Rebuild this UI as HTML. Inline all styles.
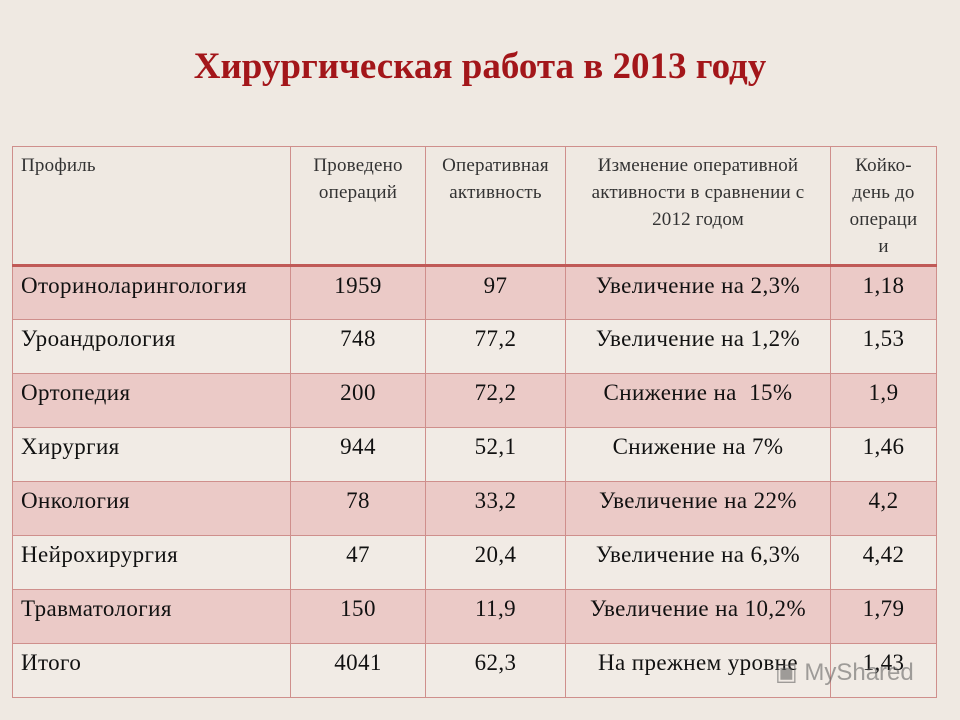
<!DOCTYPE html>
<html><head><meta charset="utf-8"><style>
body{margin:0;width:960px;height:720px;background:#efe9e2;position:relative;overflow:hidden;font-family:"Liberation Serif","Noto Serif CJK SC",serif}
h1{position:absolute;left:0;top:45px;width:960px;margin:0;text-align:center;font-size:37px;font-weight:bold;color:#a3161a;line-height:44px}
table{position:absolute;left:12px;top:146px;width:924px;border-collapse:collapse;table-layout:fixed}
td,th{border:1.5px solid #cf8f8c;padding:0;color:#111;text-align:center;font-weight:normal;box-sizing:border-box;overflow:hidden}
th{font-size:19px;height:119px;vertical-align:top;padding-top:5px;line-height:27px;color:#333;letter-spacing:0.2px}
th:first-child{text-align:left;padding-left:8px}
tr.h{border-bottom:3px solid #c05a57}
td{font-size:23px;height:54px;vertical-align:top;padding-top:6px;line-height:26px;white-space:nowrap;letter-spacing:0.4px}
td:first-child{text-align:left;padding-left:8px}
tr.o td{background:#ebcac7}
tr.e td{background:#f1ebe5}
.wm{position:absolute;left:775px;top:658px;font-family:"Liberation Sans",sans-serif;font-size:24px;color:rgba(90,90,90,0.55)}
</style></head><body>
<h1>Хирургическая работа в 2013 году</h1>
<table>
<colgroup><col style="width:278px"><col style="width:135px"><col style="width:140px"><col style="width:265px"><col style="width:106px"></colgroup>
<tr class="h"><th>Профиль</th><th>Проведено<br>операций</th><th>Оперативная<br>активность</th><th>Изменение оперативной<br>активности в сравнении с<br>2012 годом</th><th>Койко-<br>день до<br>операци<br>и</th></tr>
<tr class="o"><td>Оториноларингология</td><td>1959</td><td>97</td><td>Увеличение на 2,3%</td><td>1,18</td></tr>
<tr class="e"><td>Уроандрология</td><td>748</td><td>77,2</td><td>Увеличение на 1,2%</td><td>1,53</td></tr>
<tr class="o"><td>Ортопедия</td><td>200</td><td>72,2</td><td>Снижение на&nbsp; 15%</td><td>1,9</td></tr>
<tr class="e"><td>Хирургия</td><td>944</td><td>52,1</td><td>Снижение на 7%</td><td>1,46</td></tr>
<tr class="o"><td>Онкология</td><td>78</td><td>33,2</td><td>Увеличение на 22%</td><td>4,2</td></tr>
<tr class="e"><td>Нейрохирургия</td><td>47</td><td>20,4</td><td>Увеличение на 6,3%</td><td>4,42</td></tr>
<tr class="o"><td>Травматология</td><td>150</td><td>11,9</td><td>Увеличение на 10,2%</td><td>1,79</td></tr>
<tr class="e"><td>Итого</td><td>4041</td><td>62,3</td><td>На прежнем уровне</td><td>1,43</td></tr>
</table>
<div class="wm">▣ MyShared</div>
</body></html>
